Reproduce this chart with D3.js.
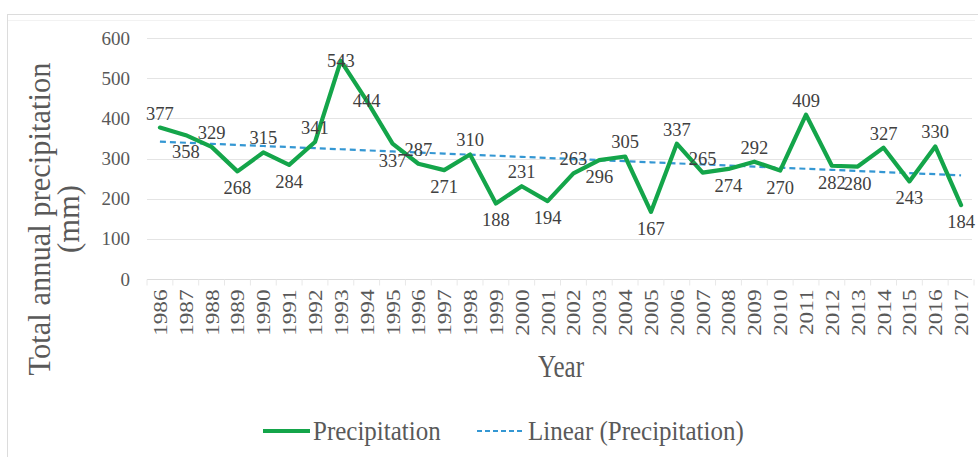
<!DOCTYPE html>
<html>
<head>
<meta charset="utf-8">
<script src="https://cdn.jsdelivr.net/npm/d3@7"></script>
<style>
  html, body { margin: 0; padding: 0; background: #ffffff; }
  svg { display: block; }
  svg text { font-family: "Liberation Serif", "Tinos", "Times New Roman", "DejaVu Serif", serif !important; }
</style>
</head>
<body>
<svg id="chart" width="978" height="457"></svg>
<script>
// ---- data ----
const years = ["1986","1987","1988","1989","1990","1991","1992","1993","1994","1995","1996","1997","1998","1999","2000","2001","2002","2003","2004","2005","2006","2007","2008","2009","2010","2011","2012","2013","2014","2015","2016","2017"];
const precipitation = [377,358,329,268,315,284,341,543,444,337,287,271,310,188,231,194,263,296,305,167,337,265,274,292,270,409,282,280,327,243,330,184];
// data label side: a = above, b = below, c = centred on point
const labelSide = ["a","b","a","b","a","b","a","c","c","b","a","b","a","b","a","b","a","b","a","b","a","a","b","a","b","a","b","b","a","b","a","b"];
const yTicks = [0,100,200,300,400,500,600];
const seriesName = "Precipitation";
const trendName = "Linear (Precipitation)";
const xTitle = "Year";
const yTitleLines = ["Total annual precipitation", "(mm)"];

// ---- layout ----
const FONT = "'Liberation Serif', 'Tinos', 'Times New Roman', 'DejaVu Serif', serif";
const svg = d3.select("#chart");
const plot = { left: 147, right: 974, top: 38, bottom: 279 };
const green = "#14a54a";
const blue = "#3497d3";
const tickGray = "#595959";
const labelGray = "#404040";
const gridGray = "#e4e4e4";

// chart border
svg.append("rect")
  .attr("x", 7.5).attr("y", 14.5).attr("width", 975).attr("height", 460)
  .attr("fill", "none").attr("stroke", "#dcdcdc").attr("stroke-width", 1);
svg.append("line")
  .attr("x1", 8).attr("x2", 975).attr("y1", 20.5).attr("y2", 20.5)
  .attr("stroke", "#f2f2f2").attr("stroke-width", 1);

const x = d3.scaleBand().domain(years).range([plot.left, plot.right]).padding(0);
const cx = d => x(d) + x.bandwidth() / 2;
const y = d3.scaleLinear().domain([0, 600]).range([plot.bottom, plot.top]);

// gridlines
svg.append("g")
  .selectAll("line").data(yTicks).join("line")
  .attr("x1", plot.left).attr("x2", plot.right - 2)
  .attr("y1", d => Math.round(y(d)) + 0.5).attr("y2", d => Math.round(y(d)) + 0.5)
  .attr("stroke", gridGray).attr("stroke-width", 1.2);

// y axis labels
const yAxis = d3.axisLeft(y).tickValues(yTicks).tickSize(0).tickPadding(17);
const gy = svg.append("g").attr("transform", `translate(${plot.left},0)`).call(yAxis)
  .attr("font-family", FONT);
gy.select(".domain").remove();
gy.selectAll("text")
  .attr("font-size", 19).attr("fill", tickGray);

// x axis with category boundary ticks
const gx = svg.append("g").attr("transform", `translate(0,${Math.round(plot.bottom) + 0.5})`)
  .attr("font-family", FONT);
gx.append("line").attr("x1", plot.left).attr("x2", plot.right - 2)
  .attr("stroke", "#dcdcdc").attr("stroke-width", 1.2);
gx.selectAll("line.bt").data(years.concat(["end"])).join("line")
  .attr("class", "bt")
  .attr("x1", (d, i) => plot.left + i * x.bandwidth())
  .attr("x2", (d, i) => plot.left + i * x.bandwidth())
  .attr("y1", 0).attr("y2", 6)
  .attr("stroke", "#e8e8e8").attr("stroke-width", 1);
gx.selectAll("text").data(years).join("text")
  .attr("transform", d => `translate(${cx(d) + 7},10) rotate(-90) scale(1.22,1)`)
  .attr("text-anchor", "end")
  .attr("font-size", 19).attr("fill", tickGray)
  .text(d => d);

// trend line (least-squares fit, as in Excel's Linear trendline)
const n = precipitation.length;
const idx = d3.range(1, n + 1);
const mx = d3.mean(idx), my = d3.mean(precipitation);
const slope = d3.sum(idx, (t, i) => (t - mx) * (precipitation[i] - my)) / d3.sum(idx, t => (t - mx) ** 2);
const intercept = my - slope * mx;
const trend = idx.map(t => intercept + slope * t);

svg.append("path")
  .datum(trend)
  .attr("fill", "none").attr("stroke", blue).attr("stroke-width", 2.2)
  .attr("stroke-dasharray", "6,4")
  .attr("d", d3.line().x((d, i) => cx(years[i])).y(d => y(d)));

// precipitation line
svg.append("path")
  .datum(precipitation)
  .attr("fill", "none").attr("stroke", green).attr("stroke-width", 4.2)
  .attr("stroke-linejoin", "round").attr("stroke-linecap", "round")
  .attr("d", d3.line().x((d, i) => cx(years[i])).y(d => y(d)));

// data labels
svg.append("g").attr("font-family", FONT).selectAll("text").data(precipitation).join("text")
  .attr("x", (d, i) => cx(years[i]))
  .attr("y", (d, i) => {
    const s = labelSide[i];
    if (s === "a") return y(d) - 8;
    if (s === "b") return y(d) + 23;
    return y(d) + 6;
  })
  .attr("text-anchor", "middle")
  .attr("font-size", 18.5).attr("fill", labelGray)
  .text(d => d);

// x title
svg.append("text")
  .attr("font-family", FONT)
  .attr("transform", "translate(561,377) scale(1,1.3)")
  .attr("text-anchor", "middle")
  .attr("font-size", 25).attr("fill", tickGray)
  .text(xTitle);

// y title
const yt = svg.append("g").attr("font-family", FONT);
yTitleLines.forEach((line, i) => {
  yt.append("text")
    .attr("transform", `translate(${i === 0 ? 50 : 79},219) rotate(-90)`)
    .attr("text-anchor", "middle")
    .attr("font-size", 30.5).attr("fill", tickGray)
    .text(line);
});

// legend
const lg = svg.append("g").attr("font-family", FONT);
lg.append("line").attr("x1", 263).attr("x2", 310).attr("y1", 431).attr("y2", 431)
  .attr("stroke", green).attr("stroke-width", 4.2);
lg.append("text").attr("transform", "translate(313,440) scale(1,1.12)")
  .attr("font-size", 25).attr("fill", tickGray).text(seriesName);
lg.append("line").attr("x1", 477).attr("x2", 525).attr("y1", 431).attr("y2", 431)
  .attr("stroke", blue).attr("stroke-width", 2.2).attr("stroke-dasharray", "5,3");
lg.append("text").attr("transform", "translate(528,440) scale(1,1.12)")
  .attr("font-size", 25).attr("fill", tickGray).text(trendName);
</script>
</body>
</html>
